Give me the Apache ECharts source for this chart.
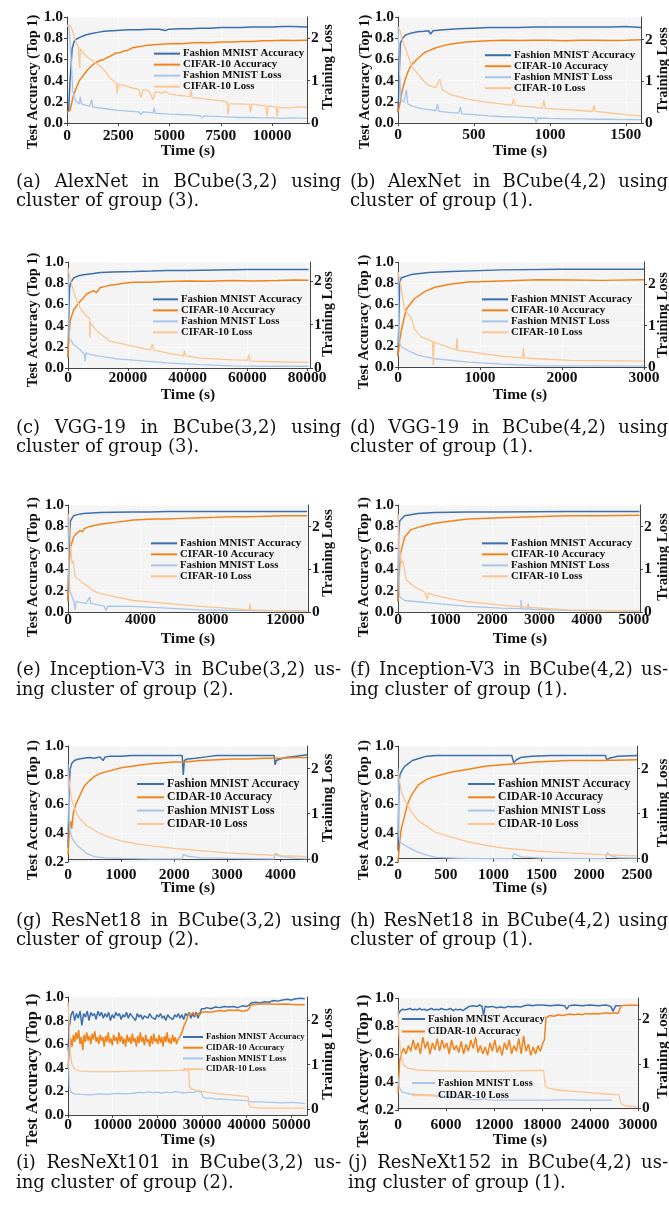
<!DOCTYPE html>
<html><head><meta charset="utf-8">
<script src="https://cdn.jsdelivr.net/npm/echarts@6/dist/echarts.min.js"></script>
<style>html,body{margin:0;padding:0;background:#fff}#c{width:669px;height:1211px}</style>
</head><body><div id="c"></div>
<script>
// ---------- series names ----------
const namesCIFAR = ['Fashion MNIST Accuracy','CIFAR-10 Accuracy','Fashion MNIST Loss','CIFAR-10 Loss'];
const namesCIDAR = ['Fashion MNIST Accuracy','CIDAR-10 Accuracy','Fashion MNIST Loss','CIDAR-10 Loss'];
// ---------- captions ----------
const capLine1 = ['(a) AlexNet in BCube(3,2) using','(b) AlexNet in BCube(4,2) using','(c) VGG-19 in BCube(3,2) using','(d) VGG-19 in BCube(4,2) using','(e) Inception-V3 in BCube(3,2) us-','(f) Inception-V3 in BCube(4,2) us-','(g) ResNet18 in BCube(3,2) using','(h) ResNet18 in BCube(4,2) using','(i) ResNeXt101 in BCube(3,2) us-','(j) ResNeXt152 in BCube(4,2) us-'];
const capLine2 = ['cluster of group (3).','cluster of group (1).','cluster of group (3).','cluster of group (1).','ing cluster of group (2).','ing cluster of group (1).','cluster of group (2).','cluster of group (1).','ing cluster of group (2).','ing cluster of group (1).'];
const yTitle = 'Test Accuracy (Top 1)', rTitle = 'Training Loss', xTitle = 'Time (s)';
// ---------- x axis extents / tick steps ----------
const xMax = [11700,1600,81000,3000,13250,5130,4500,2500,53500,30000];
const xStep = [2500,500,20000,1000,4000,1000,1000,500,10000,6000];
const accMin = [0,0,0,0,0,0,0.2,0.2,0,0.2];
const lossMin = [0,0,0,0,0,0,-0.07,-0.074,-0.135,-0.04];
const lossMax = [2.5,2.54,2.45,2.54,2.51,2.51,2.5,2.5,2.52,2.48];
const lossTicks = [0,1,2];

// ---------- (a) ----------
const a_fashionAcc = [[0,0.1],[80,0.12],[150,0.4],[250,0.7],[350,0.77],[450,0.79],[650,0.81],[900,0.83],[1200,0.845],[1500,0.855],[1800,0.865],[2200,0.87],[2600,0.875],[3000,0.88],[3500,0.88],[4000,0.885],[4500,0.885],[4800,0.872],[4950,0.885],[5500,0.89],[6000,0.89],[6500,0.895],[7000,0.895],[7500,0.9],[8000,0.9],[8500,0.9],[9000,0.905],[9500,0.905],[10000,0.905],[10500,0.91],[11000,0.91],[11700,0.905]];
const a_cifarAcc = [[0,0.1],[150,0.12],[300,0.25],[450,0.33],[600,0.4],[800,0.45],[1000,0.5],[1200,0.54],[1400,0.57],[1600,0.59],[1800,0.6],[2000,0.62],[2200,0.64],[2400,0.66],[2600,0.665],[2800,0.68],[3000,0.69],[3200,0.71],[3500,0.72],[3800,0.73],[4100,0.735],[4400,0.74],[4800,0.745],[5200,0.75],[5600,0.748],[6000,0.755],[6500,0.76],[7000,0.758],[7500,0.765],[8000,0.765],[8500,0.77],[9000,0.768],[9500,0.775],[10000,0.775],[10500,0.78],[11000,0.778],[11700,0.78]];
const a_fashionLoss = [[0,2.3],[100,2.25],[200,1.5],[280,0.8],[350,0.6],[450,0.5],[600,0.45],[650,0.62],[700,0.45],[900,0.42],[1100,0.4],[1200,0.55],[1250,0.38],[1500,0.36],[2000,0.33],[2500,0.3],[3000,0.28],[3500,0.26],[3600,0.2],[3700,0.26],[4200,0.24],[4250,0.36],[4300,0.23],[5000,0.21],[5500,0.2],[6000,0.19],[6500,0.17],[6600,0.12],[6700,0.17],[7000,0.16],[7500,0.15],[8000,0.14],[8500,0.13],[9000,0.13],[9500,0.12],[10000,0.12],[10500,0.11],[11000,0.12],[11700,0.11]];
const a_cifarLoss = [[0,2.3],[150,2.3],[250,2.2],[400,1.95],[550,1.8],[620,1.3],[650,1.75],[800,1.65],[1000,1.55],[1300,1.45],[1600,1.35],[1900,1.2],[2100,1.05],[2400,0.95],[2450,0.7],[2500,0.92],[2800,0.88],[3200,0.82],[3500,0.8],[3600,0.6],[3700,0.78],[4000,0.75],[4200,0.55],[4300,0.74],[4700,0.7],[4800,0.75],[5000,0.68],[5500,0.65],[6000,0.62],[6050,0.78],[6100,0.6],[6500,0.58],[7000,0.55],[7500,0.52],[7800,0.5],[7850,0.2],[7900,0.45],[8400,0.45],[8900,0.44],[8950,0.25],[9000,0.45],[9400,0.42],[9700,0.4],[9750,0.15],[9800,0.4],[10200,0.38],[10250,0.15],[10300,0.37],[10800,0.35],[11200,0.38],[11700,0.37]];
// ---------- (b) ----------
const b_fashionAcc = [[0,0.1],[8,0.45],[15,0.75],[30,0.8],[50,0.83],[90,0.85],[130,0.86],[170,0.865],[200,0.87],[215,0.84],[230,0.87],[300,0.88],[400,0.89],[500,0.895],[600,0.9],[700,0.9],[800,0.9],[900,0.905],[1000,0.905],[1100,0.905],[1200,0.905],[1300,0.905],[1400,0.905],[1500,0.91],[1600,0.9]];
const b_cifarAcc = [[0,0.1],[15,0.2],[30,0.32],[50,0.42],[70,0.5],[90,0.55],[110,0.58],[140,0.62],[170,0.66],[200,0.68],[250,0.71],[300,0.73],[350,0.745],[400,0.755],[450,0.765],[500,0.77],[600,0.775],[700,0.78],[800,0.778],[900,0.78],[1000,0.78],[1100,0.775],[1200,0.78],[1300,0.78],[1400,0.778],[1500,0.78],[1600,0.785]];
const b_fashionLoss = [[0,2.3],[10,1.2],[20,0.55],[40,0.5],[55,0.8],[65,0.45],[100,0.4],[150,0.35],[200,0.32],[250,0.3],[260,0.45],[270,0.28],[350,0.25],[400,0.24],[410,0.38],[420,0.22],[500,0.2],[600,0.17],[700,0.15],[800,0.14],[900,0.12],[910,0.02],[920,0.12],[1000,0.11],[1100,0.1],[1200,0.1],[1300,0.09],[1400,0.09],[1500,0.08],[1600,0.08]];
const b_cifarLoss = [[0,2.3],[15,2.2],[26,2.0],[48,1.8],[92,1.35],[136,1.15],[170,1.0],[200,0.91],[250,0.85],[275,1.05],[290,0.8],[355,0.67],[400,0.63],[450,0.58],[500,0.55],[550,0.52],[600,0.49],[683,0.46],[750,0.42],[760,0.58],[770,0.42],[900,0.38],[950,0.35],[960,0.55],[970,0.35],[1120,0.32],[1200,0.3],[1280,0.28],[1290,0.42],[1300,0.28],[1400,0.24],[1500,0.2],[1600,0.17]];
// ---------- (c) ----------
const c_fashionAcc = [[0,0.1],[500,0.75],[800,0.8],[1900,0.85],[3500,0.87],[5200,0.88],[8000,0.89],[10800,0.9],[15000,0.905],[22000,0.91],[28000,0.915],[33000,0.92],[40000,0.92],[50000,0.925],[60000,0.93],[70000,0.93],[80500,0.93]];
const c_cifarAcc = [[0,0.1],[300,0.3],[780,0.45],[1900,0.55],[4100,0.63],[6350,0.7],[8600,0.73],[9500,0.71],[10800,0.76],[12500,0.77],[14100,0.78],[16500,0.79],[18600,0.8],[22000,0.81],[27000,0.808],[33000,0.815],[40000,0.82],[47000,0.818],[55000,0.825],[62000,0.82],[70000,0.825],[76000,0.83],[80500,0.828]];
const c_fashionLoss = [[0,2.3],[200,1.5],[400,0.7],[1900,0.54],[4100,0.42],[5500,0.31],[5700,0.15],[6000,0.35],[7500,0.31],[10800,0.27],[16400,0.21],[22000,0.18],[33000,0.12],[44000,0.08],[55000,0.05],[66000,0.04],[80500,0.04]];
const c_cifarLoss = [[0,2.3],[780,2.04],[2400,1.65],[4100,1.38],[6350,1.19],[7200,1.15],[7300,0.7],[7500,1.05],[9700,0.85],[14100,0.62],[22000,0.5],[27600,0.42],[28200,0.55],[28700,0.42],[33000,0.35],[38600,0.28],[39000,0.4],[39400,0.28],[44000,0.23],[55000,0.19],[60000,0.18],[60500,0.3],[61000,0.16],[66000,0.15],[80500,0.13]];
// ---------- (d) ----------
const d_fashionAcc = [[0,0.1],[20,0.8],[41,0.85],[160,0.88],[370,0.9],[650,0.91],[1270,0.925],[2000,0.93],[3000,0.93]];
const d_cifarAcc = [[0,0.1],[20,0.25],[41,0.35],[100,0.55],[200,0.65],[330,0.72],[450,0.76],[650,0.79],[860,0.81],[1270,0.82],[1700,0.83],[2100,0.828],[2500,0.825],[3000,0.83]];
const d_fashionLoss = [[0,2.3],[12,0.6],[41,0.49],[120,0.4],[245,0.28],[450,0.2],[860,0.12],[1270,0.07],[1700,0.03],[3000,0.02]];
const d_cifarLoss = [[0,2.3],[41,1.9],[80,1.38],[160,1.2],[200,0.93],[280,0.73],[420,0.62],[430,0.05],[440,0.6],[650,0.45],[710,0.42],[720,0.7],[730,0.4],[860,0.37],[1270,0.26],[1520,0.22],[1530,0.45],[1540,0.22],[1700,0.2],[2100,0.16],[3000,0.14]];
// ---------- (e) ----------
const e_fashionAcc = [[0,0.1],[60,0.6],[130,0.85],[310,0.9],[500,0.91],[860,0.92],[1300,0.925],[1780,0.93],[2500,0.932],[3600,0.935],[4500,0.935],[5500,0.94],[7300,0.94],[9000,0.94],[11000,0.94],[13200,0.94]];
const e_cifarAcc = [[0,0.1],[40,0.4],[130,0.6],[310,0.7],[500,0.74],[680,0.76],[800,0.75],[900,0.78],[1230,0.8],[1500,0.81],[1780,0.82],[2200,0.83],[2700,0.84],[3200,0.85],[3600,0.86],[4200,0.865],[4700,0.87],[5450,0.87],[6300,0.875],[7290,0.88],[8200,0.885],[9100,0.89],[10000,0.89],[11000,0.895],[12000,0.9],[13200,0.9]];
const e_fashionLoss = [[0,2.3],[40,1.0],[100,0.5],[300,0.27],[400,0.05],[450,0.25],[600,0.23],[1000,0.2],[1200,0.35],[1250,0.2],[2000,0.14],[2100,0.03],[2200,0.14],[3600,0.13],[5450,0.09],[7300,0.05],[9100,0.04],[13200,0.02]];
const e_cifarLoss = [[0,2.3],[60,2.2],[130,1.6],[220,1.14],[280,1.2],[400,0.82],[860,0.67],[1400,0.5],[1780,0.43],[2700,0.35],[3600,0.27],[5450,0.2],[7300,0.13],[9100,0.08],[10000,0.05],[10050,0.2],[10100,0.05],[11000,0.04],[13200,0.02]];
// ---------- (f) ----------
const f_fashionAcc = [[0,0.1],[15,0.7],[35,0.85],[140,0.9],[420,0.92],[775,0.93],[1480,0.935],[2180,0.935],[3600,0.94],[5120,0.94]];
const f_cifarAcc = [[0,0.1],[15,0.3],[56,0.55],[140,0.7],[280,0.77],[490,0.8],[775,0.83],[1130,0.85],[1480,0.87],[2180,0.88],[2890,0.89],[3600,0.9],[4300,0.9],[5120,0.905]];
const f_fashionLoss = [[0,2.3],[20,0.8],[35,0.35],[140,0.27],[420,0.24],[775,0.2],[1480,0.13],[2180,0.09],[2600,0.08],[2610,0.28],[2620,0.08],[2750,0.07],[2760,0.2],[2770,0.07],[2890,0.06],[3600,0.04],[5120,0.02]];
const f_cifarLoss = [[0,2.3],[35,1.5],[70,1.14],[105,1.2],[175,0.75],[350,0.59],[560,0.47],[620,0.3],[640,0.45],[775,0.39],[1130,0.31],[1480,0.24],[2180,0.16],[2890,0.1],[3600,0.05],[5120,0.02]];
// ---------- (g) ----------
const g_fashionAcc = [[0,0.3],[20,0.7],[40,0.84],[70,0.88],[120,0.9],[200,0.91],[300,0.915],[400,0.92],[500,0.915],[600,0.925],[660,0.9],[700,0.925],[800,0.93],[1000,0.93],[1200,0.935],[1400,0.935],[1600,0.935],[1800,0.935],[2000,0.935],[2150,0.935],[2170,0.8],[2190,0.9],[2250,0.91],[2400,0.915],[2600,0.925],[2800,0.935],[3000,0.935],[3300,0.935],[3600,0.935],[3880,0.935],[3900,0.87],[3920,0.9],[4000,0.91],[4100,0.92],[4300,0.93],[4500,0.94]];
const g_cidarAcc = [[0,0.25],[30,0.45],[50,0.48],[70,0.43],[100,0.54],[150,0.6],[200,0.64],[300,0.72],[400,0.76],[500,0.79],[600,0.81],[800,0.83],[1000,0.85],[1200,0.86],[1400,0.87],[1600,0.88],[1800,0.885],[2000,0.89],[2200,0.89],[2500,0.9],[2800,0.905],[3100,0.91],[3400,0.91],[3700,0.915],[4000,0.915],[4300,0.92],[4500,0.92]];
const g_fashionLoss = [[0,2.1],[20,0.8],[40,0.6],[80,0.45],[150,0.33],[250,0.22],[350,0.12],[500,0.05],[700,0.02],[1000,0.01],[1500,0.0],[2150,0.0],[2170,0.1],[2250,0.06],[2500,0.02],[3000,0.01],[3880,0.0],[3900,0.12],[4000,0.06],[4300,0.01],[4500,0.0]];
const g_cidarLoss = [[0,1.93],[63,1.33],[126,1.11],[220,0.89],[350,0.74],[600,0.56],[800,0.47],[1000,0.4],[1300,0.33],[1600,0.28],[2000,0.23],[2500,0.18],[3000,0.13],[3500,0.1],[4000,0.07],[4500,0.05]];
// ---------- (h) ----------
const h_fashionAcc = [[0,0.28],[10,0.75],[20,0.8],[40,0.83],[70,0.86],[100,0.875],[150,0.9],[200,0.91],[300,0.93],[400,0.935],[600,0.935],[800,0.935],[1000,0.935],[1190,0.935],[1210,0.885],[1240,0.905],[1280,0.92],[1400,0.93],[1600,0.935],[1800,0.935],[2000,0.935],[2170,0.935],[2185,0.905],[2210,0.915],[2300,0.93],[2500,0.935]];
const h_cidarAcc = [[0,0.2],[20,0.35],[35,0.43],[70,0.52],[100,0.6],[140,0.66],[210,0.73],[300,0.77],[385,0.79],[560,0.82],[735,0.84],[910,0.86],[1085,0.87],[1260,0.88],[1435,0.89],[1780,0.9],[2130,0.9],[2500,0.905]];
const h_fashionLoss = [[0,2.0],[10,0.5],[20,0.37],[35,0.33],[100,0.26],[200,0.15],[300,0.08],[400,0.03],[600,0.01],[900,0.0],[1190,0.0],[1210,0.11],[1250,0.07],[1300,0.04],[1500,0.01],[2170,0.0],[2190,0.13],[2230,0.06],[2300,0.02],[2500,0.01]];
const h_cidarLoss = [[0,1.93],[35,1.48],[70,1.3],[140,1.04],[210,0.85],[385,0.59],[560,0.48],[735,0.37],[910,0.3],[1085,0.24],[1435,0.17],[1780,0.13],[2130,0.09],[2500,0.06]];
// ---------- (i) ----------
const i_fashionAcc = [[0,0.55],[300,0.75],[700,0.85],[1100,0.88],[1500,0.8],[1900,0.86],[2300,0.82],[2700,0.88],[3100,0.76],[3500,0.86],[3900,0.83],[4300,0.88],[4700,0.8],[5100,0.87],[5500,0.84],[5900,0.86],[6300,0.81],[6700,0.88],[7100,0.84],[7500,0.87],[7900,0.82],[8300,0.86],[8700,0.83],[9100,0.87],[9500,0.8],[9900,0.85],[10300,0.82],[10700,0.87],[11100,0.84],[11500,0.86],[11900,0.81],[12300,0.85],[12700,0.83],[13100,0.87],[13500,0.82],[13900,0.86],[14300,0.84],[14700,0.85],[15100,0.8],[15500,0.86],[15900,0.83],[16300,0.85],[16700,0.81],[17100,0.84],[17500,0.85],[17900,0.82],[18300,0.86],[18700,0.83],[19100,0.84],[19500,0.81],[19900,0.85],[20300,0.83],[20700,0.86],[21100,0.82],[21500,0.84],[21900,0.8],[22300,0.85],[22700,0.83],[23100,0.84],[23500,0.81],[23900,0.85],[24300,0.83],[24700,0.86],[25100,0.82],[25500,0.85],[25900,0.81],[26300,0.86],[26700,0.84],[27100,0.87],[27500,0.82],[27900,0.86],[28300,0.83],[28700,0.87],[29100,0.82],[29500,0.86],[29900,0.9],[30500,0.9],[31000,0.91],[32000,0.9],[33000,0.915],[34000,0.91],[35000,0.92],[36000,0.915],[37000,0.92],[38000,0.91],[39000,0.925],[40000,0.92],[40500,0.93],[41000,0.95],[42000,0.955],[43000,0.95],[44000,0.96],[45000,0.955],[46000,0.97],[47000,0.965],[48000,0.975],[49000,0.98],[50000,0.975],[51000,0.985],[52000,0.99],[53000,0.985]];
const i_cidarAcc = [[0,0.4],[300,0.55],[600,0.65],[900,0.58],[1200,0.68],[1500,0.62],[1800,0.7],[2100,0.64],[2400,0.72],[2700,0.6],[3000,0.66],[3300,0.55],[3600,0.68],[3900,0.62],[4200,0.7],[4500,0.63],[4800,0.67],[5100,0.6],[5400,0.69],[5700,0.64],[6000,0.71],[6300,0.62],[6600,0.66],[6900,0.6],[7200,0.68],[7500,0.63],[7800,0.66],[8100,0.58],[8400,0.67],[8700,0.62],[9000,0.7],[9300,0.61],[9600,0.65],[9900,0.59],[10200,0.68],[10500,0.63],[10800,0.66],[11100,0.6],[11400,0.7],[11700,0.62],[12000,0.67],[12300,0.6],[12600,0.65],[12900,0.58],[13200,0.68],[13500,0.62],[13800,0.66],[14100,0.6],[14400,0.69],[14700,0.62],[15000,0.65],[15300,0.58],[15600,0.67],[15900,0.61],[16200,0.7],[16500,0.62],[16800,0.66],[17100,0.59],[17400,0.68],[17700,0.62],[18000,0.64],[18300,0.58],[18600,0.67],[18900,0.6],[19200,0.69],[19500,0.62],[19800,0.65],[20100,0.6],[20400,0.68],[20700,0.61],[21000,0.66],[21300,0.58],[21600,0.67],[21900,0.62],[22200,0.7],[22500,0.61],[22800,0.65],[23100,0.6],[23400,0.68],[23700,0.62],[24000,0.66],[24300,0.6],[24600,0.64],[25000,0.66],[25500,0.7],[26000,0.76],[26500,0.8],[27000,0.86],[27500,0.85],[28000,0.87],[28500,0.84],[29000,0.86],[29500,0.85],[30000,0.87],[31000,0.875],[32000,0.87],[33000,0.88],[34000,0.885],[35000,0.88],[36000,0.89],[37000,0.885],[38000,0.89],[39000,0.88],[40000,0.885],[40500,0.9],[41000,0.935],[43000,0.94],[45000,0.94],[47000,0.938],[49000,0.94],[51000,0.935],[53000,0.935]];
const i_fashionLoss = [[0,1.4],[300,0.5],[700,0.38],[1500,0.34],[3000,0.33],[5000,0.32],[7000,0.34],[9000,0.33],[11000,0.35],[13000,0.34],[15000,0.36],[16000,0.38],[17000,0.36],[18000,0.39],[19000,0.37],[20000,0.38],[21000,0.36],[22000,0.38],[23000,0.37],[24000,0.39],[25000,0.38],[26000,0.36],[27000,0.38],[28000,0.37],[29000,0.4],[29800,0.38],[30300,0.26],[31000,0.24],[32000,0.25],[33000,0.22],[34000,0.23],[36000,0.21],[38000,0.2],[40000,0.19],[40800,0.16],[43000,0.16],[46000,0.15],[48000,0.14],[50000,0.15],[52000,0.13],[53000,0.12]];
const i_cidarLoss = [[0,2.4],[200,2.0],[500,1.25],[900,1.0],[1500,0.9],[2500,0.86],[5000,0.84],[10000,0.84],[15000,0.85],[20000,0.86],[25000,0.87],[27000,0.88],[27200,0.5],[27600,0.45],[29000,0.42],[31000,0.38],[33000,0.35],[35000,0.33],[37000,0.31],[39000,0.29],[40300,0.28],[40500,0.1],[41000,0.04],[43000,0.02],[48000,0.02],[53000,0.02]];
// ---------- (j) ----------
const j_fashionAcc = [[0,0.88],[300,0.91],[600,0.92],[900,0.915],[1200,0.92],[1500,0.925],[1800,0.915],[2100,0.92],[2400,0.915],[2700,0.925],[3000,0.915],[3300,0.92],[3600,0.91],[3900,0.92],[4200,0.925],[4500,0.915],[4800,0.92],[5100,0.915],[5400,0.925],[5700,0.92],[6000,0.915],[6300,0.92],[6600,0.925],[6900,0.91],[7200,0.92],[7500,0.915],[7800,0.92],[8100,0.91],[8500,0.925],[8900,0.94],[9400,0.945],[9900,0.94],[10200,0.95],[10500,0.94],[10700,0.88],[10900,0.94],[11300,0.935],[11800,0.94],[12300,0.93],[12800,0.935],[13300,0.93],[13800,0.94],[14300,0.935],[14800,0.94],[15300,0.935],[15800,0.945],[16300,0.95],[16800,0.945],[17300,0.95],[18000,0.95],[19000,0.945],[20000,0.95],[20800,0.945],[21100,0.92],[21400,0.945],[22000,0.95],[23000,0.945],[24000,0.95],[25000,0.945],[26000,0.95],[26600,0.94],[26900,0.905],[27200,0.945],[27800,0.945]];
const j_cidarAcc = [[0,0.32],[200,0.55],[400,0.6],[700,0.64],[1000,0.6],[1300,0.66],[1600,0.62],[1900,0.7],[2200,0.63],[2500,0.68],[2800,0.6],[3100,0.72],[3400,0.64],[3700,0.69],[4000,0.6],[4300,0.68],[4600,0.63],[4900,0.71],[5200,0.62],[5500,0.7],[5800,0.64],[6100,0.68],[6400,0.6],[6700,0.7],[7000,0.63],[7300,0.66],[7600,0.61],[7900,0.69],[8200,0.6],[8500,0.67],[8800,0.62],[9100,0.7],[9400,0.64],[9700,0.72],[10000,0.61],[10300,0.66],[10600,0.6],[10900,0.65],[11200,0.59],[11500,0.68],[11800,0.62],[12100,0.7],[12400,0.61],[12700,0.66],[13000,0.59],[13300,0.68],[13600,0.63],[13900,0.7],[14200,0.6],[14500,0.66],[14800,0.62],[15100,0.71],[15400,0.6],[15700,0.73],[16000,0.62],[16300,0.67],[16600,0.59],[16900,0.65],[17200,0.6],[17500,0.66],[17800,0.62],[18100,0.68],[18300,0.7],[18500,0.86],[19000,0.875],[19500,0.87],[20000,0.88],[20500,0.875],[21000,0.88],[21500,0.885],[22000,0.88],[22500,0.885],[23000,0.88],[23500,0.89],[24000,0.885],[24500,0.89],[25000,0.885],[25500,0.89],[26000,0.895],[26500,0.89],[27000,0.895],[27500,0.89],[27700,0.9],[27900,0.945],[28500,0.948],[29500,0.948],[30000,0.948]];
const j_fashionLoss = [[0,0.7],[200,0.45],[500,0.37],[1500,0.32],[3000,0.3],[5000,0.27],[7000,0.25],[8500,0.23],[9000,0.2],[10000,0.19],[10500,0.2],[10800,0.23],[11100,0.19],[13000,0.18],[15000,0.18],[17000,0.18],[19000,0.18],[20800,0.19],[21000,0.22],[21300,0.19],[23000,0.18],[25000,0.18],[26750,0.18]];
const j_cidarLoss = [[0,2.2],[150,1.6],[350,1.2],[700,0.98],[1200,0.9],[2500,0.86],[5000,0.84],[10000,0.83],[15000,0.84],[18200,0.85],[18400,0.5],[18800,0.45],[20000,0.41],[22000,0.38],[24000,0.35],[26000,0.32],[27600,0.3],[27900,0.1],[28500,0.05],[30000,0.03]];

const panelData = [
  [a_fashionAcc,a_cifarAcc,a_fashionLoss,a_cifarLoss],
  [b_fashionAcc,b_cifarAcc,b_fashionLoss,b_cifarLoss],
  [c_fashionAcc,c_cifarAcc,c_fashionLoss,c_cifarLoss],
  [d_fashionAcc,d_cifarAcc,d_fashionLoss,d_cifarLoss],
  [e_fashionAcc,e_cifarAcc,e_fashionLoss,e_cifarLoss],
  [f_fashionAcc,f_cifarAcc,f_fashionLoss,f_cifarLoss],
  [g_fashionAcc,g_cidarAcc,g_fashionLoss,g_cidarLoss],
  [h_fashionAcc,h_cidarAcc,h_fashionLoss,h_cidarLoss],
  [i_fashionAcc,i_cidarAcc,i_fashionLoss,i_cidarLoss],
  [j_fashionAcc,j_cidarAcc,j_fashionLoss,j_cidarLoss]
];
const panelNames = [namesCIFAR,namesCIFAR,namesCIFAR,namesCIFAR,namesCIFAR,namesCIFAR,namesCIDAR,namesCIDAR,namesCIDAR,namesCIDAR];

// ---------- layout (positions / sizes only) ----------
const LAYOUT = [
 {l:67, t:17, w:240,h:106,xm:5, lg:[{l:154,r0:53,sp:9.7,f:10.8,iw:26,it:[0,1,2,3]}], yT:[33,82,14.4], rT:[328,67,14.5], xT:[188,151], cap:[16,341,182,201]},
 {l:398,t:17, w:243,h:106,xm:4, lg:[{l:485,r0:55,sp:10.6,f:10.8,iw:26,it:[0,1,2,3]}], yT:[365,82,14.4], rT:[663,70,14.5], xT:[520,151], cap:[350,668,182,201]},
 {l:68, t:262,w:242,h:106,xm:2, lg:[{l:153,r0:299,sp:10.3,f:10.8,iw:25,it:[0,1,2,3]}], yT:[33,320,14.4], rT:[328,314,14.5], xT:[188,395], cap:[16,341,428,447]},
 {l:398,t:262,w:246,h:105,xm:3, lg:[{l:482,r0:299,sp:10.3,f:10.8,iw:26,it:[0,1,2,3]}], yT:[364,322,14.4], rT:[663,315,14.5], xT:[520,395], cap:[350,668,428,447]},
 {l:68, t:505,w:240,h:107,xm:0, lg:[{l:151,r0:543,sp:10.3,f:10.8,iw:26,it:[0,1,2,3]}], yT:[33,567,15], rT:[328,553,14.8], xT:[188,639], cap:[16,341,670,690]},
 {l:398,t:505,w:242,h:107,xm:0, lg:[{l:482,r0:543,sp:10.3,f:10.8,iw:26,it:[0,1,2,3]}], yT:[364,567,15], rT:[663,557,14.8], xT:[520,639], cap:[350,668,670,690]},
 {l:68, t:746,w:239,h:116,xm:5, lg:[{l:137,r0:784,sp:13.3,f:11.8,iw:27,it:[0,1,2,3]}], yT:[33,810,15], rT:[328,798,15], xT:[188,888], cap:[16,341,921,940]},
 {l:398,t:746,w:239,h:116,xm:5, lg:[{l:468,r0:784,sp:13.3,f:11.8,iw:27,it:[0,1,2,3]}], yT:[364,810,15], rT:[663,803,15], xT:[520,888], cap:[350,668,921,940]},
 {l:68, t:997,w:239,h:118,xm:2, lg:[{l:183,r0:1037,sp:10.7,f:8.8,iw:20,it:[0,1,2,3]}], yT:[33,1070,16.4], rT:[328,1054,15.5], xT:[188,1140], cap:[16,341,1163,1183]},
 {l:398,t:998,w:240,h:112,xm:7, lg:[{l:402,r0:1019,sp:12.5,f:10.4,iw:23,it:[0,1]},{l:412,r0:1083,sp:12.2,f:10.4,iw:23,it:[2,3]}], yT:[364,1071,16.4], rT:[663,1053,15.5], xT:[520,1140], cap:[348,668,1163,1183]}
];

const COLORS = ['#3b6fae','#f0841c','#a9c6ea','#fcc592'];
const WIDTHS = [1.5,1.5,1.3,1.3];
const SERIF = '"Liberation Serif","Times New Roman",serif';
const CAPFONT = 'normal 18px "DejaVu Serif"';

const grid=[], xAxis=[], yAxis=[], series=[], legend=[], graphic=[];
const mctx = document.createElement('canvas').getContext('2d');
function textEl(txt,x,y,font,opt){
  opt = opt||{};
  return {type:'text', x:x, y:y, rotation:opt.rot||0, silent:true,
    style:{text:txt, font:font, fill:'#111', textAlign:opt.align||'center', textVerticalAlign:'middle', align:opt.align||'center', verticalAlign:'middle'}};
}
function justified(txt,x0,x1,y,font){
  mctx.font = font;
  const words = txt.split(' ');
  const ws = words.map(w=>mctx.measureText(w).width);
  const gap = (x1-x0-ws.reduce((s,v)=>s+v,0))/(words.length-1);
  let x = x0;
  words.forEach((w,k)=>{ graphic.push(textEl(w,x,y,font,{align:'left'})); x += ws[k]+gap; });
}
const tickLabel = {fontFamily:SERIF, fontWeight:'bold', fontSize:15.5, color:'#111'};
const axisLine = {show:true, lineStyle:{color:'#444', width:1}};
const axisTick = {show:true, length:3, inside:false, lineStyle:{color:'#444', width:1}};

LAYOUT.forEach((L,p)=>{
  grid.push({left:L.l, top:L.t, width:L.w, height:L.h, show:true, backgroundColor:'#f4f4f4', borderWidth:0, containLabel:false});
  const maxOnTick = (xMax[p] % xStep[p]) === 0;
  xAxis.push({type:'value', gridIndex:p, min:0, max:xMax[p], interval:xStep[p],
    axisLine:axisLine, axisTick:axisTick,
    axisLabel:Object.assign({margin:L.xm, showMaxLabel:maxOnTick, hideOverlap:false, formatter:v=>String(Math.round(v))}, tickLabel),
    splitLine:{show:true, lineStyle:{color:'#ffffff', type:'dotted', width:1}}});
  yAxis.push({type:'value', gridIndex:p, position:'left', min:accMin[p], max:1.0, interval:0.2,
    axisLine:axisLine, axisTick:axisTick,
    axisLabel:Object.assign({margin:4, formatter:v=>v.toFixed(1)}, tickLabel),
    splitLine:{show:true, lineStyle:{color:'#ffffff', type:'dotted', width:1}}});
  yAxis.push({type:'value', gridIndex:p, position:'right', min:lossMin[p], max:lossMax[p],
    axisLine:axisLine, axisTick:Object.assign({customValues:lossTicks}, axisTick),
    axisLabel:Object.assign({margin:4, customValues:lossTicks, formatter:v=>String(Math.round(v))}, tickLabel),
    splitLine:{show:false}});
  const names = panelNames[p];
  panelData[p].forEach((d,s)=>{
    series.push({type:'line', name:names[s], xAxisIndex:p, yAxisIndex:2*p+(s>=2?1:0),
      data:d, showSymbol:false, symbol:'none', color:COLORS[s],
      lineStyle:{color:COLORS[s], width:WIDTHS[s]}, silent:true, z:2});
  });
  L.lg.forEach(g=>{
    legend.push({orient:'vertical', left:g.l, top:g.r0-g.sp/2, padding:0, itemGap:0,
      itemWidth:g.iw, itemHeight:2, icon:'rect', selectedMode:false,
      data:g.it.map(k=>names[k]),
      textStyle:{fontFamily:SERIF, fontWeight:'bold', fontSize:g.f, lineHeight:g.sp, color:'#111', padding:[0,0,0,-2]}});
  });
  graphic.push(textEl(yTitle, L.yT[0], L.yT[1], 'bold '+L.yT[2]+'px '+SERIF, {rot:Math.PI/2}));
  graphic.push(textEl(rTitle, L.rT[0], L.rT[1], 'bold '+L.rT[2]+'px '+SERIF, {rot:Math.PI/2}));
  graphic.push(textEl(xTitle, L.xT[0], L.xT[1], 'bold 15.5px '+SERIF));
  justified(capLine1[p], L.cap[0], L.cap[1], L.cap[2], CAPFONT);
  graphic.push(textEl(capLine2[p], L.cap[0], L.cap[3], CAPFONT, {align:'left'}));
});

const chart = echarts.init(document.getElementById('c'), null, {renderer:'canvas'});
chart.setOption({animation:false, backgroundColor:'#ffffff', grid, xAxis, yAxis, series, legend, graphic});
</script></body></html>
